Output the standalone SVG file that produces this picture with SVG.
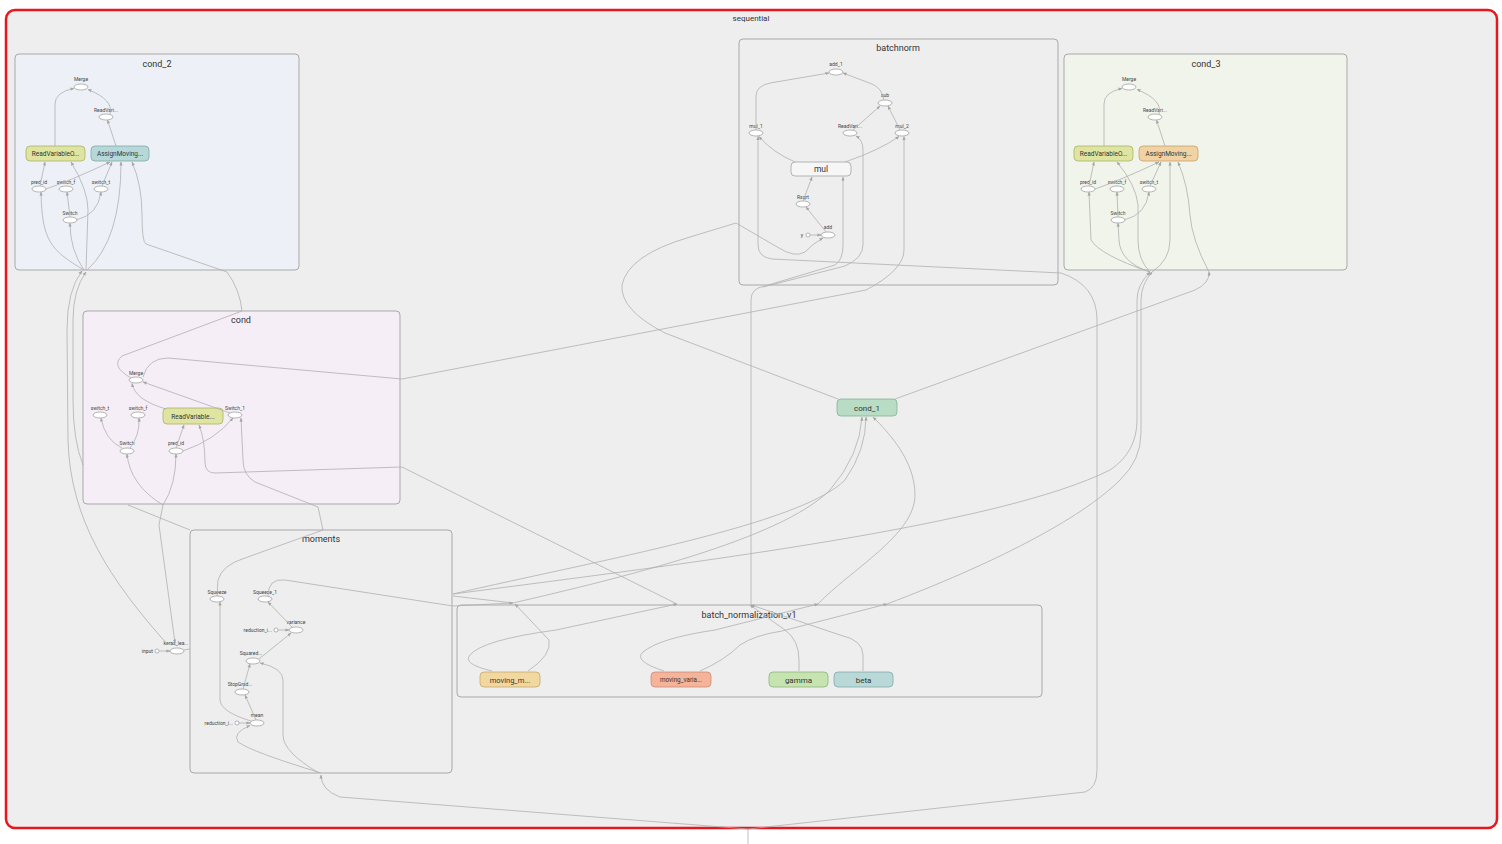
<svg xmlns="http://www.w3.org/2000/svg" width="1502" height="844" viewBox="0 0 1502 844">
<style>
text{font-family:Roboto,"Liberation Sans",sans-serif;fill:#333;text-anchor:middle}
.g{stroke:#a9a9a9;stroke-width:1}
.gl{font-size:9px}
.sl{font-size:5px;fill:#444}
.bl{font-size:6.5px}
.op{fill:#fff;stroke:#888;stroke-width:0.6}
.e{fill:none;stroke:#b0b0b0;stroke-width:0.8;marker-end:url(#a)}
.n{fill:none;stroke:#b0b0b0;stroke-width:0.8}
.yg{fill:#dfe5a0;stroke:#aab36a;stroke-width:0.8}
.tl{fill:#b6d8d8;stroke:#7fa9a9;stroke-width:0.8}
.or{fill:#f0d2a4;stroke:#c9a16a;stroke-width:0.8}
</style>
<defs>
<marker id="a" viewBox="0 0 10 10" refX="9" refY="5" markerWidth="4" markerHeight="4" markerUnits="userSpaceOnUse" orient="auto"><path d="M0,1 L10,5 L0,9 z" fill="#a5a5a5"/></marker>
</defs>
<rect width="1502" height="844" fill="#fff"/>
<g id="sequential">
<rect x="6" y="10" width="1491" height="818" rx="9" fill="#eeeeee" stroke="#e8171d" stroke-width="2.5"/>
<text x="751" y="21" style="font-size:8px">sequential</text>
</g>

<g id="cond_2">
<rect class="g" x="15" y="54" width="284" height="216" rx="4" fill="#edf1f7"/>
<text class="gl" x="157" y="67">cond_2</text>
<ellipse class="op" cx="81" cy="87" rx="7" ry="3"/><text class="sl" x="81" y="81">Merge</text>
<ellipse class="op" cx="106" cy="117" rx="7" ry="3"/><text class="sl" x="106" y="112">ReadVari...</text>
<rect class="yg" x="26" y="146" width="59" height="15" rx="4"/><text class="bl" x="55.5" y="156">ReadVariableO...</text>
<rect class="tl" x="91" y="146" width="58" height="15" rx="4"/><text class="bl" x="120" y="156">AssignMoving...</text>
<ellipse class="op" cx="39" cy="189" rx="7" ry="3"/><text class="sl" x="39" y="184">pred_id</text>
<ellipse class="op" cx="66" cy="189" rx="7" ry="3"/><text class="sl" x="66" y="184">switch_f</text>
<ellipse class="op" cx="101" cy="189" rx="7" ry="3"/><text class="sl" x="101" y="184">switch_t</text>
<ellipse class="op" cx="70" cy="220" rx="7" ry="3"/><text class="sl" x="70" y="215">Switch</text>
</g>

<g id="cond_3">
<rect class="g" x="1064" y="54" width="283" height="216" rx="4" fill="#f0f4eb"/>
<text class="gl" x="1206" y="67">cond_3</text>
<ellipse class="op" cx="1129" cy="87" rx="7" ry="3"/><text class="sl" x="1129" y="81">Merge</text>
<ellipse class="op" cx="1155" cy="117" rx="7" ry="3"/><text class="sl" x="1155" y="112">ReadVari...</text>
<rect class="yg" x="1074" y="146" width="59" height="15" rx="4"/><text class="bl" x="1103.5" y="156">ReadVariableO...</text>
<rect class="or" x="1139" y="146" width="59" height="15" rx="4"/><text class="bl" x="1168.5" y="156">AssignMoving...</text>
<ellipse class="op" cx="1088" cy="189" rx="7" ry="3"/><text class="sl" x="1088" y="184">pred_id</text>
<ellipse class="op" cx="1117" cy="189" rx="7" ry="3"/><text class="sl" x="1117" y="184">switch_f</text>
<ellipse class="op" cx="1149" cy="189" rx="7" ry="3"/><text class="sl" x="1149" y="184">switch_t</text>
<ellipse class="op" cx="1118" cy="220" rx="7" ry="3"/><text class="sl" x="1118" y="215">Switch</text>
</g>

<g id="batchnorm">
<rect class="g" x="739" y="39" width="319" height="246" rx="4" fill="#eeeeee"/>
<text class="gl" x="898" y="51">batchnorm</text>
<ellipse class="op" cx="836" cy="72" rx="7" ry="3"/><text class="sl" x="836" y="66">add_1</text>
<ellipse class="op" cx="885" cy="103" rx="7" ry="3"/><text class="sl" x="885" y="97">sub</text>
<ellipse class="op" cx="756" cy="133" rx="7" ry="3"/><text class="sl" x="756" y="128">mul_1</text>
<ellipse class="op" cx="850" cy="133" rx="7" ry="3"/><text class="sl" x="850" y="128">ReadVari...</text>
<ellipse class="op" cx="902" cy="133" rx="7" ry="3"/><text class="sl" x="902" y="128">mul_2</text>
<rect x="791" y="162" width="60" height="14" rx="4" fill="#f6f6f6" stroke="#999" stroke-width="0.7"/><text x="821" y="172" style="font-size:8.5px">mul</text>
<ellipse class="op" cx="803" cy="204" rx="7" ry="3"/><text class="sl" x="803" y="199">Rsqrt</text>
<ellipse class="op" cx="828" cy="235" rx="7" ry="3"/><text class="sl" x="828" y="229">add</text>
<circle class="op" cx="808" cy="235" r="2"/><text class="sl" x="803" y="237" style="text-anchor:end">y</text>
</g>

<g id="cond">
<rect class="g" x="83" y="311" width="317" height="193" rx="4" fill="#f6eef6"/>
<text class="gl" x="241" y="323">cond</text>
<ellipse class="op" cx="136" cy="380" rx="7" ry="3"/><text class="sl" x="136" y="375">Merge</text>
<ellipse class="op" cx="100" cy="415" rx="7" ry="3"/><text class="sl" x="100" y="410">switch_t</text>
<ellipse class="op" cx="138" cy="415" rx="7" ry="3"/><text class="sl" x="138" y="410">switch_f</text>
<rect class="yg" x="163" y="408" width="60" height="16" rx="4"/><text class="bl" x="193" y="418.5">ReadVariable...</text>
<ellipse class="op" cx="235" cy="415" rx="7" ry="3"/><text class="sl" x="235" y="410">Switch_1</text>
<ellipse class="op" cx="127" cy="451" rx="7" ry="3"/><text class="sl" x="127" y="445">Switch</text>
<ellipse class="op" cx="176" cy="451" rx="7" ry="3"/><text class="sl" x="176" y="445">pred_id</text>
</g>

<g id="cond_1">
<rect x="837" y="399" width="60" height="17" rx="4" fill="#b8dcc4" stroke="#85b094" stroke-width="0.8"/>
<text x="867" y="410.5" style="font-size:8px">cond_1</text>
</g>

<g id="moments">
<rect class="g" x="190" y="530" width="262" height="243" rx="4" fill="#eeeeee"/>
<text class="gl" x="321" y="542">moments</text>
<ellipse class="op" cx="217" cy="599" rx="7" ry="3"/><text class="sl" x="217" y="594">Squeeze</text>
<ellipse class="op" cx="265" cy="599" rx="7" ry="3"/><text class="sl" x="265" y="594">Squeeze_1</text>
<ellipse class="op" cx="296" cy="630" rx="7" ry="3"/><text class="sl" x="296" y="624">variance</text>
<circle class="op" cx="276" cy="630" r="2"/><text class="sl" x="272" y="632" style="text-anchor:end">reduction_i...</text>
<ellipse class="op" cx="253" cy="661" rx="7" ry="3"/><text class="sl" x="251" y="655">Squared...</text>
<ellipse class="op" cx="242" cy="692" rx="7" ry="3"/><text class="sl" x="240" y="686">StopGrad...</text>
<ellipse class="op" cx="257" cy="723" rx="7" ry="3"/><text class="sl" x="257" y="717">mean</text>
<circle class="op" cx="237" cy="723" r="2"/><text class="sl" x="233" y="725" style="text-anchor:end">reduction_i...</text>
</g>

<g id="keras_learning_phase">
<ellipse class="op" cx="177" cy="651" rx="7" ry="3"/><text class="sl" x="176" y="645">keras_lea...</text>
</g>
<g id="input">
<circle class="op" cx="157" cy="651" r="2"/><text class="sl" x="153" y="653" style="text-anchor:end">input</text>
</g>

<g id="batch_normalization_v1">
<rect class="g" x="457" y="605" width="585" height="92" rx="4" fill="#eeeeee"/>
<text class="gl" x="749" y="618">batch_normalization_v1</text>
<rect x="480" y="672" width="60" height="15" rx="4" fill="#f1d8a0" stroke="#c7aa6a" stroke-width="0.8"/><text x="510" y="682.5" style="font-size:7.5px">moving_m...</text>
<rect x="651" y="672" width="60" height="15" rx="4" fill="#f5b39a" stroke="#cc8c73" stroke-width="0.8"/><text x="681" y="682" style="font-size:6.3px">moving_varia...</text>
<rect x="769" y="672" width="59" height="15" rx="4" fill="#c5e4b0" stroke="#91b37d" stroke-width="0.8"/><text x="798.5" y="682.5" style="font-size:8px">gamma</text>
<rect x="834" y="672" width="59" height="15" rx="4" fill="#b8d9d8" stroke="#84aaa9" stroke-width="0.8"/><text x="863.5" y="682.5" style="font-size:8px">beta</text>
</g>

<g id="connectors">
<!-- cond_2 internal -->
<path class="e" d="M55,146 V104 Q55,92 74,88.5"/>
<path class="e" d="M110,114 Q114,100 88,89.5"/>
<path class="e" d="M116,146 L107.5,120"/>
<path class="e" d="M40,186 L45,162"/>
<path class="e" d="M46,189 Q72,180 110,162"/>
<path class="e" d="M70,217 L67,192"/>
<path class="e" d="M76,220 Q98,215 101,192"/>
<path class="e" d="M102,186 L112,162"/>
<path class="e" d="M84,270 C50,250 42,240 41,192"/>
<path class="e" d="M84,270 Q70,250 70,223"/>
<path class="e" d="M86,270 L88,210 Q88,190 71,162"/>
<path class="e" d="M87,270 Q121,240 121,162"/>
<path class="e" d="M131,378 Q110,366 122,356 L242,311 Q240,290 227,272 L146,244 Q142,242 142,215 Q142,185 132,162"/>
<!-- cond_3 internal -->
<path class="e" d="M1104,146 V104 Q1104,92 1122,88.5"/>
<path class="e" d="M1159,114 Q1163,100 1137,89.5"/>
<path class="e" d="M1165,146 L1156.5,120"/>
<path class="e" d="M1089,186 L1094,162"/>
<path class="e" d="M1095,189 Q1121,180 1159,162"/>
<path class="e" d="M1118,217 L1117,192"/>
<path class="e" d="M1124,220 Q1146,215 1149,192"/>
<path class="e" d="M1150,186 L1161,162"/>
<path class="e" d="M1150,272 Q1100,255 1091,240 L1089,192"/>
<path class="e" d="M1150,272 Q1120,262 1119,240 L1118,223"/>
<path class="e" d="M1150,272 Q1138,260 1138,240 L1138,205 Q1136,185 1117,162"/>
<path class="e" d="M1152,272 Q1170,260 1170,240 V162"/>
<path class="e" d="M1209,272 Q1192,240 1190,215 Q1188,185 1178,162"/>
<!-- batchnorm internal -->
<path class="e" d="M795,162 Q772,152 759,136.5"/>
<path class="e" d="M845,162 Q880,150 899,136.5"/>
<path class="e" d="M756,130 V96 Q756,86 770,83 L829,73"/>
<path class="e" d="M884,100 Q882,88 872,84 L843,73"/>
<path class="e" d="M853,130 L880,106"/>
<path class="e" d="M900,130 L888,106"/>
<path class="e" d="M803,201 L812,177"/>
<path class="e" d="M826,232 L806,207"/>
<path class="e" d="M810,235 L821,235"/>
<!-- cond internal -->
<path class="e" d="M122,448 Q105,440 101,418"/>
<path class="e" d="M130,448 Q140,435 139,418"/>
<path class="e" d="M176,448 L184,425"/>
<path class="e" d="M183,451 Q215,440 233,418"/>
<path class="e" d="M166,409 Q135,400 132,383.5"/>
<path class="e" d="M230,413 L143,382"/>
<path class="e" d="M163,505 Q130,485 127,454"/>
<path class="e" d="M163,505 Q176,485 176,454"/>
<!-- moments internal -->
<path class="e" d="M159,651 L170,651"/>
<path class="n" d="M184,650 L190,649"/>
<path class="e" d="M321,773 Q252,752 238,742 Q232,733 250,725.5"/>
<path class="e" d="M319,773 Q283,752 283,735 V680 Q283,668 260,663"/>
<path class="e" d="M256,720 L245,695"/>
<path class="e" d="M243,689 L250,664"/>
<path class="e" d="M259,659 L291,633"/>
<path class="e" d="M278,630 L289,630"/>
<path class="e" d="M239,723 L250,723"/>
<path class="e" d="M292,627 L268,602"/>
<path class="e" d="M251,721 Q221,712 220,700 V602"/>
<!-- cross-group -->
<path class="e" d="M217,596 L218,580 Q222,565 245,558 L323,530 L318,507 L255,482 Q243,475 243,460 L241,418"/>
<path class="e" d="M268,596 Q268,578 285,580 L453,606 L513,603"/>
<path class="e" d="M143,377 Q148,358 168,358 L402,379 L866,290 Q904,270 904,250 V136.5"/>
<path class="e" d="M677,604 L402,467 L215,473 Q205,473 205,462 Q205,440 199,425"/>
<path class="e" d="M751,604 V300 Q751,288 765,286 L835,265 Q843,260 843,245 V177"/>
<path class="e" d="M763,287 L845,266 Q863,258 863,245 V150 Q863,140 856,136"/>
<path class="e" d="M748,829 L1085,792 Q1097,788 1097,770 V320 Q1097,285 1061,273 L772,259 Q758,257 758,245 V136.5"/>
<path class="e" d="M748,829 L340,797 Q321,790 321,775"/>
<path class="n" d="M748,844 V829"/>
<path class="e" d="M838,399 L665,333 Q620,310 622,285 Q628,255 690,237 L736,223 L779,248 Q795,258 805,252 Q812,244 823,238"/>
<path class="e" d="M895,399 L1195,290 Q1210,283 1209,272"/>
<path class="e" d="M453,594 C600,560 800,525 845,480 Q866,450 866,417"/>
<path class="e" d="M513,603 C620,578 780,540 830,490 Q860,455 862,417"/>
<path class="e" d="M453,594 C700,562 1000,525 1110,470 Q1137,452 1137,420 V300 Q1137,285 1150,272"/>
<path class="e" d="M887,604 C990,565 1080,520 1120,480 Q1141,460 1141,433 V300 Q1141,285 1152,272"/>
<path class="e" d="M818,604 C850,570 915,535 915,495 C915,460 888,432 873,417"/>
<path class="n" d="M453,596 L513,603"/>
<path class="e" d="M163,505 L159,525 L175,643"/>
<path class="e" d="M168,645 C110,580 70,520 68,440 L67,330 Q67,290 82,271"/>
<path class="e" d="M83,465 Q73,440 73,400 L73,320 Q73,290 86,272"/>
<path class="n" d="M128,505 L190,530"/>
<!-- batch_normalization_v1 internal -->
<path class="e" d="M492,671 Q462,664 470,655 Q482,640 556,630 L677,604"/>
<path class="e" d="M528,671 Q552,655 549,640 L515,604"/>
<path class="e" d="M664,671 Q633,661 643,652 Q660,638 715,630 L818,604"/>
<path class="e" d="M700,671 Q725,660 740,645 Q755,635 782,631 L887,604"/>
<path class="e" d="M799,671 V660 Q799,640 785,630 L750,605"/>
<path class="e" d="M863,671 V655 Q863,640 840,635 L751,605"/>
</g>
</svg>
